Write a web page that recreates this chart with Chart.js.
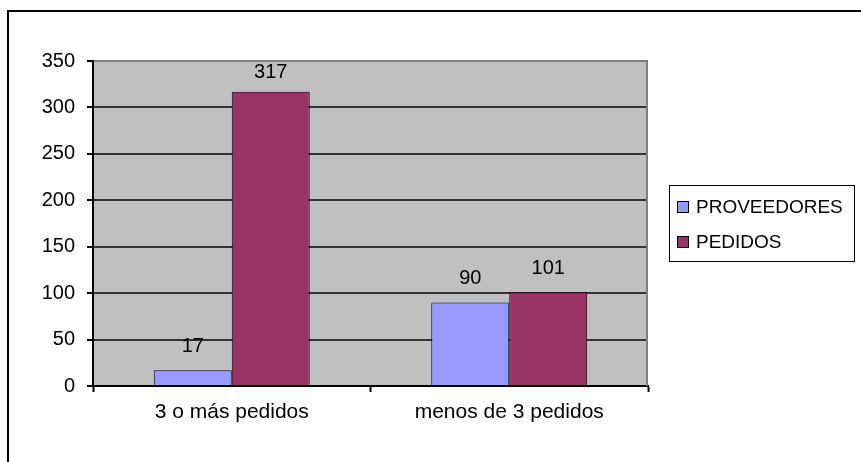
<!DOCTYPE html>
<html>
<head>
<meta charset="utf-8">
<script src="https://cdn.jsdelivr.net/npm/chart.js@4"></script>
<style>
  html, body { margin: 0; padding: 0; background: #fff; }
  canvas { display: block; }
</style>
</head>
<body>
<canvas id="c" width="861" height="462"></canvas>
<script>
const categories = ["3 o más pedidos", "menos de 3 pedidos"];
const seriesNames = ["PROVEEDORES", "PEDIDOS"];
const proveedores = [17, 90];
const pedidos = [317, 101];
const yTicks = [0, 50, 100, 150, 200, 250, 300, 350];

const FONT = '"Liberation Sans", Arial, sans-serif';
const colors = ["#9999FF", "#993366"];

const framePlugin = {
  id: 'frame',
  beforeDraw(chart) {
    const ctx = chart.ctx, a = chart.chartArea;
    ctx.save();
    ctx.fillStyle = '#fff';
    ctx.fillRect(0, 0, chart.width, chart.height);
    ctx.fillStyle = '#C0C0C0';
    ctx.fillRect(a.left, a.top, a.right - a.left, a.bottom - a.top);
    // outer border (top + left)
    ctx.fillStyle = '#000';
    ctx.fillRect(7, 10, chart.width - 7, 2);
    ctx.fillRect(7, 10, 2, chart.height - 10);
    ctx.restore();
  },
  beforeDatasetsDraw(chart) {
    const ctx = chart.ctx, a = chart.chartArea;
    ctx.save();
    ctx.strokeStyle = '#808080';
    ctx.lineWidth = 2;
    ctx.beginPath();
    ctx.moveTo(a.right - 1, a.top);
    ctx.lineTo(a.right - 1, a.bottom);
    ctx.stroke();
    ctx.restore();
  },
  afterDatasetsDraw(chart) {
    const ctx = chart.ctx, a = chart.chartArea;
    ctx.save();
    ctx.font = '20px ' + FONT;
    ctx.fillStyle = '#000';
    ctx.textAlign = 'center';
    ctx.textBaseline = 'alphabetic';
    chart.data.datasets.forEach((ds, i) => {
      chart.getDatasetMeta(i).data.forEach((bar, j) => {
        const y = Math.max(bar.y - 18, a.top + 17);
        ctx.fillText(String(ds.data[j]), bar.x, y);
      });
    });
    // legend
    const lx = 669, ly = 185, lw = 186, lh = 77;
    ctx.fillStyle = '#fff';
    ctx.fillRect(lx, ly, lw, lh);
    ctx.strokeStyle = '#000';
    ctx.lineWidth = 1;
    ctx.strokeRect(lx + 0.5, ly + 0.5, lw - 1, lh - 1);
    ctx.font = '19px ' + FONT;
    ctx.textAlign = 'left';
    ctx.textBaseline = 'middle';
    chart.data.datasets.forEach((ds, i) => {
      const cy = 207 + i * 35;
      ctx.fillStyle = ds.backgroundColor;
      ctx.fillRect(677, cy - 6, 12, 12);
      ctx.strokeStyle = '#000';
      ctx.strokeRect(677.5, cy - 5.5, 11, 11);
      ctx.fillStyle = '#000';
      ctx.fillText(ds.label, 696, cy + 1);
    });
    ctx.restore();
  }
};

new Chart(document.getElementById('c'), {
  type: 'bar',
  data: {
    labels: categories,
    datasets: [
      { label: seriesNames[0], data: proveedores, backgroundColor: colors[0], borderColor: '#000', borderWidth: 1 },
      { label: seriesNames[1], data: pedidos, backgroundColor: colors[1], borderColor: '#000', borderWidth: 1 }
    ]
  },
  options: {
    responsive: false,
    animation: false,
    devicePixelRatio: 1,
    layout: { padding: { top: 61, right: 213, left: 0, bottom: 0 } },
    plugins: { legend: { display: false }, tooltip: { enabled: false } },
    datasets: { bar: { categoryPercentage: 0.562, barPercentage: 1.0 } },
    scales: {
      x: {
        afterFit(s) { s.height = 76; },
        grid: { display: true, drawOnChartArea: false, offset: true, tickLength: 6, tickColor: '#000', tickWidth: 2 },
        border: { display: true, color: '#000', width: 2 },
        ticks: { color: '#000', font: { family: FONT, size: 21 }, padding: 8, maxRotation: 0 }
      },
      y: {
        min: 0, max: 350,
        afterFit(s) { s.width = 93; },
        afterBuildTicks(s) { s.ticks = yTicks.map(v => ({ value: v })); },
        grid: {
          color: (c) => (c.tick && c.tick.value === 350) ? '#808080' : '#333',
          lineWidth: 2,
          tickLength: 6,
          tickColor: '#000',
          tickWidth: 2
        },
        border: { display: true, color: '#000', width: 2 },
        ticks: { color: '#000', font: { family: FONT, size: 20 }, padding: 12, stepSize: 50 }
      }
    }
  },
  plugins: [framePlugin]
});
</script>
</body>
</html>
